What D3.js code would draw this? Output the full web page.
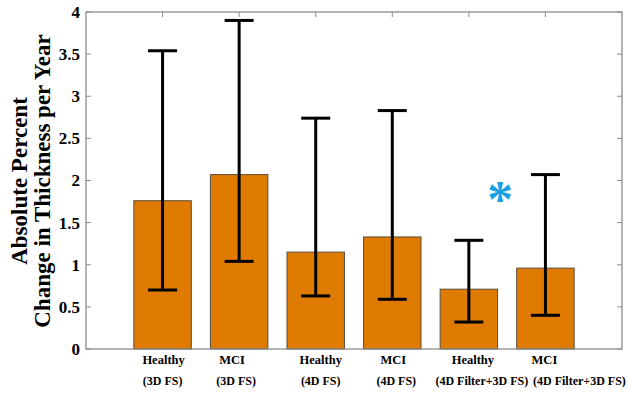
<!doctype html>
<html>
<head>
    <style>
        body { margin: 0; background: #fff; }
        text { font-family: "Liberation Serif", "Times New Roman", serif; font-weight: bold; }
        .bar { fill: #df7b00; stroke: #5a4a3a; stroke-width: 1; }
        .err { stroke: #000; stroke-width: 3; fill: none; }
    </style>
    <script src="https://d3js.org/d3.v7.min.js"></script>
</head>
<body>
<svg width="627" height="393"></svg>
<script>

    // data
    var groups = ["Healthy", "MCI", "Healthy", "MCI", "Healthy", "MCI"];
    var methods = ["(3D FS)", "(3D FS)", "(4D FS)", "(4D FS)", "(4D Filter+3D FS)", "(4D Filter+3D FS)"];
    var means = [1.76, 2.07, 1.15, 1.33, 0.71, 0.96];
    var upper = [3.54, 3.90, 2.74, 2.83, 1.29, 2.07];
    var lower = [0.70, 1.04, 0.63, 0.59, 0.32, 0.40];
    var yTicks = [0, 0.5, 1, 1.5, 2, 2.5, 3, 3.5, 4];
    var starAt = [5.41, 1.86];  // significance marker centre (x slot, value)

    // label nudges so the two-line labels don't collide
    var nudge1 = [1, -7, 5, 1, 4, -1];
    var nudge2 = [0, -3, 5, 4, 13, 34];

    var svg = d3.select("svg"),
        pl = 86, pr = 622, pt = 12, pb = 349;

    var x = d3.scaleLinear().domain([0, 7]).range([pl, pr]),
        y = d3.scaleLinear().domain([0, 4]).range([pb, pt]);

    var bw = x(0.75) - x(0);
    var idx = d3.range(means.length);

    // bars
    svg.selectAll(".bar")
        .data(idx)
        .enter().append("rect")
        .attr("class", "bar")
        .attr("x", function(i) { return x(i + 1) - bw / 2; })
        .attr("y", function(i) { return y(means[i]); })
        .attr("width", bw)
        .attr("height", function(i) { return y(0) - y(means[i]); });

    // error bars
    var cap = 14.5;
    var eb = svg.selectAll(".eb").data(idx).enter().append("g").attr("class", "err");
    eb.append("line")
        .attr("x1", function(i) { return x(i + 1); })
        .attr("x2", function(i) { return x(i + 1); })
        .attr("y1", function(i) { return y(lower[i]); })
        .attr("y2", function(i) { return y(upper[i]); });
    eb.append("line")
        .attr("x1", function(i) { return x(i + 1) - cap; })
        .attr("x2", function(i) { return x(i + 1) + cap; })
        .attr("y1", function(i) { return y(upper[i]); })
        .attr("y2", function(i) { return y(upper[i]); });
    eb.append("line")
        .attr("x1", function(i) { return x(i + 1) - cap; })
        .attr("x2", function(i) { return x(i + 1) + cap; })
        .attr("y1", function(i) { return y(lower[i]); })
        .attr("y2", function(i) { return y(lower[i]); });

    // box + ticks
    var axisCol = "#8c8c8c";
    svg.append("rect")
        .attr("x", pl).attr("y", pt)
        .attr("width", pr - pl).attr("height", pb - pt)
        .attr("fill", "none").attr("stroke", axisCol).attr("stroke-width", 1.3);

    yTicks.forEach(function(t) {
        svg.append("line").attr("x1", pl).attr("x2", pl + 5)
            .attr("y1", y(t)).attr("y2", y(t)).attr("stroke", axisCol);
        svg.append("line").attr("x1", pr - 5).attr("x2", pr)
            .attr("y1", y(t)).attr("y2", y(t)).attr("stroke", axisCol);
        svg.append("text")
            .attr("x", pl - 6).attr("y", y(t))
            .attr("dy", "0.35em")
            .attr("text-anchor", "end")
            .attr("font-size", "17px")
            .text(t);
    });

    idx.forEach(function(i) {
        svg.append("line").attr("x1", x(i + 1)).attr("x2", x(i + 1))
            .attr("y1", pt).attr("y2", pt + 5).attr("stroke", axisCol);
    });

    // category labels, two lines
    svg.selectAll(".lab1").data(idx).enter().append("text")
        .attr("x", function(i) { return x(i + 1) + nudge1[i]; })
        .attr("y", 364)
        .attr("text-anchor", "middle")
        .attr("font-size", "12.5px")
        .text(function(i) { return groups[i]; });
    svg.selectAll(".lab2").data(idx).enter().append("text")
        .attr("x", function(i) { return x(i + 1) + nudge2[i]; })
        .attr("y", 385)
        .attr("text-anchor", "middle")
        .attr("font-size", "12px")
        .text(function(i) { return methods[i]; });

    // y title
    var yt = svg.append("text")
        .attr("transform", "translate(0,181) rotate(-90)")
        .attr("text-anchor", "middle")
        .attr("font-size", "23px");
    yt.append("tspan").attr("x", 0).attr("y", 27).text("Absolute Percent");
    yt.append("tspan").attr("x", 0).attr("y", 50).text("Change in Thickness per Year");

    // significance star (glyph sits high, so push it down to centre)
    svg.append("text")
        .attr("x", x(starAt[0]))
        .attr("y", y(starAt[1]))
        .attr("dy", "0.47em")
        .attr("text-anchor", "middle")
        .attr("font-family", "DejaVu Sans")
        .attr("font-size", "52px")
        .attr("fill", "#1ba1e2")
        .text("*");

</script>
</body>
</html>
